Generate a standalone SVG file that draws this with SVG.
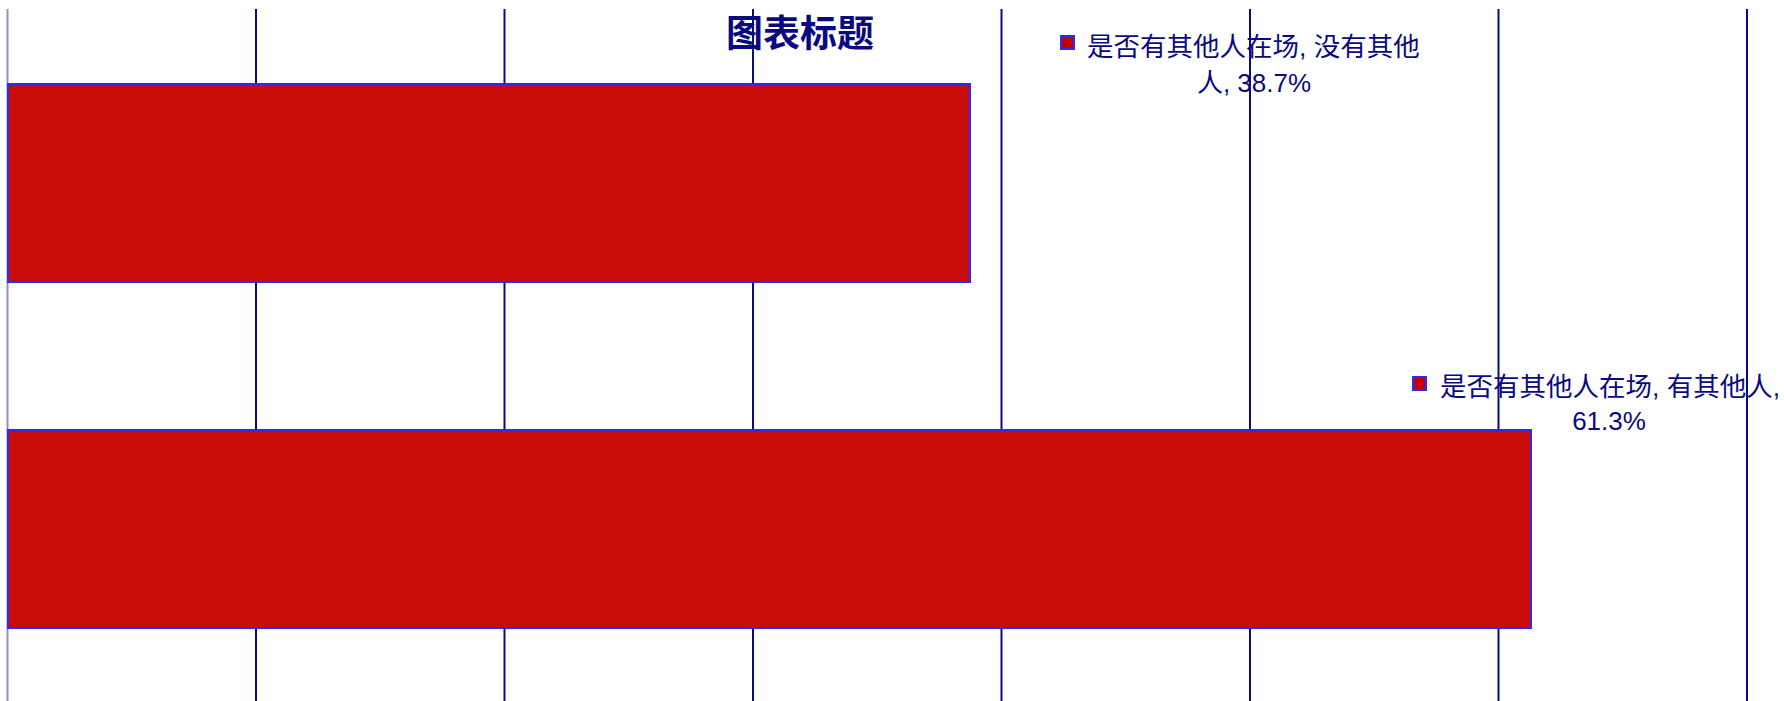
<svg xmlns="http://www.w3.org/2000/svg" width="1784" height="701" viewBox="0 0 1784 701">
<style>
.t{font-family:"Liberation Sans","Noto Sans CJK SC",sans-serif;fill:#0a0a80;}
.title{font-size:37px;font-weight:bold;}
.lbl{font-size:26px;}
.wide{font-size:26.5px;}
.grid{stroke:#0a0a85;stroke-width:2;}
.axis{stroke:#9090b8;stroke-width:2;}
.bar{fill:#c90c0a;stroke:#2a2aff;stroke-width:2;}
.key{fill:#c00000;stroke:#2a2aff;stroke-width:2;}
</style>
<rect width="1784" height="701" fill="#ffffff"/>
<g id="title"><text class="t title" x="800" y="47" text-anchor="middle">图表标题</text></g>
<g id="label1">
<rect class="key" x="1061" y="36" width="13" height="13"/>
<text class="t wide" x="1087" y="56">是否有其他人在场, 没有其他</text>
<text class="t lbl" x="1254" y="92" text-anchor="middle">人, 38.7%</text>
</g>
<g id="label2">
<rect class="key" x="1413" y="377" width="13" height="13"/>
<text class="t wide" x="1440" y="396">是否有其他人在场, 有其他人,</text>
<text class="t lbl" x="1609" y="430" text-anchor="middle">61.3%</text>
</g>
<g id="gridlines">
<line class="axis" x1="7.5" y1="9" x2="7.5" y2="701"/>
<line class="grid" x1="256" y1="9" x2="256" y2="701"/>
<line class="grid" x1="504.5" y1="9" x2="504.5" y2="701"/>
<line class="grid" x1="753" y1="9" x2="753" y2="701"/>
<line class="grid" x1="1001.5" y1="9" x2="1001.5" y2="701"/>
<line class="grid" x1="1250" y1="9" x2="1250" y2="701"/>
<line class="grid" x1="1498.5" y1="9" x2="1498.5" y2="701"/>
<line class="grid" x1="1747" y1="9" x2="1747" y2="701"/>
</g>
<g id="bar1"><rect class="bar" x="8" y="84" width="962" height="198"/></g>
<g id="bar2"><rect class="bar" x="8" y="430" width="1523" height="198"/></g>
</svg>
